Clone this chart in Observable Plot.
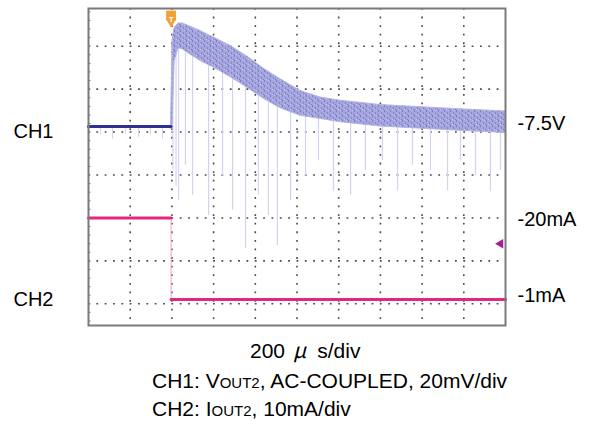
<!DOCTYPE html>
<html><head><meta charset="utf-8">
<script src="https://cdn.jsdelivr.net/npm/d3@7"></script>
<script src="https://cdn.jsdelivr.net/npm/@observablehq/plot@0.6"></script>
<style>
body{margin:0;background:#fff;font-family:"Liberation Sans",Arial,sans-serif;}
#wrap{position:relative;width:592px;height:433px;overflow:hidden;}
.cap{position:absolute;font-size:21px;color:#000;white-space:nowrap;line-height:21px;}
.sc{font-size:15px;}
.mu{font-family:"Noto Sans CJK JP",sans-serif;font-style:italic;margin:0 11px 0 8px;}
</style></head><body>
<div id="wrap"><div id="chart"></div>
<div class="cap" style="left:250px;top:339px;">200<span class="mu">μ</span>s/div</div>
<div class="cap" style="left:152px;top:370px;">CH1: V<span class="sc">OUT2</span>, AC-COUPLED, 20mV/div</div>
<div class="cap" style="left:152px;top:398px;">CH2: I<span class="sc">OUT2</span>, 10mA/div</div>
</div>
<script>
// ---- data (time in µs, CH1 in mV relative to -7.5 V, CH2 in mA) ----
const gridTime = [200, 400, 600, 800, 1000, 1200, 1400, 1600, 1800];
const gridDiv = [-3, -2, -1, 0, 1, 2, 3];

const ch1PreTime = [0, 396];
const ch1PreValue = [0, 0];

const bandTime = [396, 403, 413, 432, 451, 489, 537, 600, 681, 763, 839, 921, 1017, 1113, 1209, 1400, 1592, 1784, 2000];
const bandHigh = [1, 40, 46, 48, 48, 46.5, 44.5, 41.5, 37.5, 32.5, 27, 22, 16.5, 13.5, 12, 10, 9, 8, 7];
const bandLow = [-1, 0.5, 30.5, 36.5, 36, 33.5, 30.5, 27.5, 23, 18, 13, 8.5, 5, 3.5, 2, 0, -1, -2, -3];

const spikeTime = [405, 420, 432, 465, 499, 576, 643, 691, 753, 815, 863, 906, 969, 1041, 1103, 1175, 1257, 1328, 1410, 1482, 1554, 1640, 1722, 1784, 1856, 1928, 1976];
const spikeLow = [-20, -28, -34.5, -18, -32, -41.5, -23, -39, -57, -32, -41.5, -55.5, -34.5, -23, -16, -30, -32, -20.5, -16, -30, -18, -20.5, -30, -16, -23, -30.5, -20.5];
const spikeTop = [30, 40, 42, 41, 40, 36, 32, 30, 25, 22, 18, 16, 12, 10, 9, 7.5, 6.5, 6, 5, 4.5, 4, 3.5, 3, 3, 2.5, 2, 2];

const preSpikeTime = [58, 115, 177, 240, 297, 355];
const preSpikeLow = [-4, -6, -3.5, -5, -4, -6];

const ch2Time = [0, 396, 396, 2000];
const ch2Value = [-20, -20, -1, -1];
const ch2Segment = ["before", "before", "after", "after"];

const triggerTime = 396;
const triggerLevel = -14;

const channelLabels = ["CH1", "CH2"];
const levelLabels = ["-7.5V", "-20mA", "-1mA"];

// ---- mapping of channel units onto screen divisions ----
const ch1Div = mV => 1.13 + mV / 20;     // 20 mV/div, -7.5 V reference
const ch2Div = mA => -3 - mA / 10;       // 10 mA/div

const band = bandTime.map((t, i) => ({t, hi: bandHigh[i], lo: bandLow[i]}));
const spikes = spikeTime.map((t, i) => ({t, lo: spikeLow[i], hi: spikeTop[i]}));
const preSpikes = preSpikeTime.map((t, i) => ({t, lo: preSpikeLow[i]}));
const ch1Pre = ch1PreTime.map((t, i) => ({t, v: ch1PreValue[i]}));
const ch2 = ch2Time.map((t, i) => ({t, v: ch2Value[i], s: ch2Segment[i]}));
const minorTicks = d3.range(-17, 20).map(k => k / 5);

const dot = "#4a4a4a";
const chart = Plot.plot({
  width: 592, height: 335,
  marginLeft: 88, marginRight: 87, marginTop: 8, marginBottom: 10,
  x: {domain: [0, 2000], axis: null},
  y: {domain: [-3.505, 3.878], axis: null},
  style: {fontFamily: "Liberation Sans, Arial, sans-serif", background: "white", overflow: "visible"},
  marks: [
    Plot.ruleY(gridDiv, {stroke: dot, strokeWidth: 1.6, strokeDasharray: "1.8,6.54"}),
    Plot.ruleX(gridTime, {stroke: dot, strokeWidth: 1.6, strokeDasharray: "1.8,6.79"}),
    Plot.ruleY(minorTicks, {x1: 0, x2: 12, stroke: "#777", strokeWidth: 1}),
    Plot.ruleX(preSpikes, {x: "t", y1: d => ch1Div(d.lo), y2: ch1Div(0), stroke: "#d4d4f0", strokeWidth: 1}),
    Plot.ruleX(spikes, {x: "t", y1: d => ch1Div(d.lo), y2: d => ch1Div(d.hi), stroke: "#d2d2f2", strokeWidth: 1.2}),
    Plot.areaY(band, {x: "t", y1: d => ch1Div(d.lo), y2: d => ch1Div(d.hi), fill: "url(#bandtex)", stroke: "#b4b4e4", strokeWidth: 1}),
    Plot.line(ch1Pre, {x: "t", y: d => ch1Div(d.v), stroke: "#2e3192", strokeWidth: 3.2}),
    Plot.ruleX([triggerTime], {y1: ch2Div(-20), y2: ch2Div(-1), stroke: "#f4a6c8", strokeWidth: 1}),
    Plot.line(ch2, {x: "t", y: d => ch2Div(d.v), z: "s", stroke: "#e5267d", strokeWidth: 3}),
    Plot.frame({stroke: "#7a7a7a", strokeWidth: 2}),
    Plot.dot([triggerTime], {x: d => d, frameAnchor: "top", dy: 7, symbol: "square", r: 5.5, fill: "#f0a035"}),
    Plot.dot([triggerTime], {x: d => d, frameAnchor: "top", dy: 13, symbol: "triangle", rotate: 180, r: 4, fill: "#f0a035"}),
    Plot.text(["T"], {x: triggerTime, frameAnchor: "top", dy: 8, fill: "white", fontSize: 8, fontWeight: "bold"}),
    Plot.dot([triggerLevel], {x: 2000, y: d => ch2Div(d), dx: -5, symbol: "triangle", rotate: -90, r: 3.5, fill: "#a5208f"}),
    Plot.text([channelLabels[0]], {x: 0, y: ch1Div(0), dx: -35, dy: 5, textAnchor: "end", fontSize: 20, fill: "black"}),
    Plot.text([channelLabels[1]], {x: 0, y: ch2Div(-1), dx: -35, dy: 0, textAnchor: "end", fontSize: 20, fill: "black"}),
    Plot.text([levelLabels[0]], {x: 2000, y: ch1Div(0), dx: 12, dy: -3, textAnchor: "start", fontSize: 20, fill: "black"}),
    Plot.text([levelLabels[1]], {x: 2000, y: ch2Div(-20), dx: 12, dy: 1.5, textAnchor: "start", fontSize: 20, fill: "black"}),
    Plot.text([levelLabels[2]], {x: 2000, y: ch2Div(-1), dx: 12, dy: -4, textAnchor: "start", fontSize: 20, fill: "black"})
  ]
});
// texture for the noisy persistence band
const ns = "http://www.w3.org/2000/svg";
const defs = document.createElementNS(ns, "defs");
defs.innerHTML = `<pattern id="bandtex" width="6" height="5" patternUnits="userSpaceOnUse">
  <rect width="6" height="5" fill="#a6a6de"/>
  <rect x="0" y="0" width="1" height="2" fill="#7c7cc6"/>
  <rect x="3" y="2" width="1" height="2" fill="#8484ca"/>
  <rect x="5" y="4" width="1" height="1" fill="#7a7ac4"/>
  <rect x="2" y="4" width="1" height="1" fill="#c2c2ea"/>
  <rect x="4" y="0" width="1" height="1" fill="#c0c0e8"/>
</pattern>`;
chart.insertBefore(defs, chart.firstChild);
document.getElementById("chart").appendChild(chart);
</script>
</body></html>
